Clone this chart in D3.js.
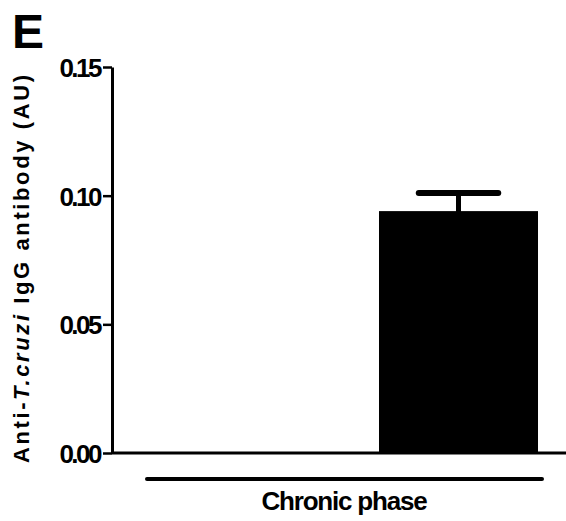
<!DOCTYPE html>
<html>
<head>
<meta charset="utf-8">
<script src="https://cdn.jsdelivr.net/npm/d3@7/dist/d3.min.js"></script>
<style>
  body { margin: 0; background: #fff; }
  text { font-family: "Liberation Sans", Arial, sans-serif; font-weight: bold; }
</style>
</head>
<body>
<svg id="mainsvg" width="566" height="521"></svg>
<script>
// data
const categories = ['ctrl', 'infected'];
const means = [0, 0.094];
const errors = [0, 0.007];
const yTicks = [0, 0.05, 0.10, 0.15];
const groupLabel = 'Chronic phase';

const svg = d3.select('#mainsvg');
const axisX = 112;

const yScale = d3.scaleLinear().domain([0, 0.15]).range([453, 67]);
const xScale = d3.scaleBand().domain(categories).range([112, 592]).padding(0.2535);

// panel letter
svg.append('text')
  .attr('x', 12).attr('y', 48)
  .style('font-size', '48px')
  .text('E');

// bars
svg.selectAll('.bar').data(categories).enter().append('rect')
  .attr('class', 'bar')
  .attr('x', d => xScale(d))
  .attr('width', xScale.bandwidth())
  .attr('y', (d, i) => yScale(means[i]))
  .attr('height', (d, i) => yScale(0) - yScale(means[i]))
  .attr('fill', '#000');

// error bars (upper only)
const eb = svg.append('g').attr('stroke', '#000').attr('stroke-linecap', 'round');
categories.forEach((c, i) => {
  if (means[i] <= 0) return;
  const cx = xScale(c) + xScale.bandwidth() / 2;
  const top = yScale(means[i] + errors[i]);
  eb.append('line').attr('x1', cx).attr('x2', cx)
    .attr('y1', yScale(means[i])).attr('y2', top).attr('stroke-width', 5);
  eb.append('line').attr('x1', cx - xScale.bandwidth() / 4).attr('x2', cx + xScale.bandwidth() / 4)
    .attr('y1', top).attr('y2', top).attr('stroke-width', 6);
});

// x axis line
svg.append('line')
  .attr('x1', axisX).attr('x2', 566)
  .attr('y1', yScale(0)).attr('y2', yScale(0))
  .attr('stroke', '#000').attr('stroke-width', 3);

// y axis
const yAxis = svg.append('g')
  .attr('transform', `translate(${axisX},0)`)
  .call(d3.axisLeft(yScale).tickValues(yTicks).tickFormat(d3.format('.2f')).tickSize(9).tickPadding(3).tickSizeOuter(0));
yAxis.select('.domain').attr('stroke-width', 3);
yAxis.selectAll('.tick line').attr('stroke-width', 2.5);
yAxis.selectAll('.tick text')
  .style('font-family', '"Liberation Sans", Arial, sans-serif')
  .style('font-weight', 'bold')
  .style('font-size', '26px')
  .style('letter-spacing', '-2.5px')
  .attr('fill', '#000')
  .attr('dy', '0.36em');

// y label
const ylab = svg.append('text')
  .attr('transform', 'rotate(-90)')
  .attr('x', -269).attr('y', 29)
  .attr('text-anchor', 'middle')
  .style('font-size', '22px')
  .attr('textLength', 388)
  .attr('lengthAdjust', 'spacing');
ylab.append('tspan').text('Anti-');
ylab.append('tspan').style('font-style', 'italic').text('T.cruzi');
ylab.append('tspan').text(' IgG antibody (AU)');

// group line and label
svg.append('line')
  .attr('x1', 147).attr('x2', 542)
  .attr('y1', 479).attr('y2', 479)
  .attr('stroke', '#000').attr('stroke-width', 4).attr('stroke-linecap', 'round');

svg.append('text')
  .attr('x', 344).attr('y', 510)
  .attr('text-anchor', 'middle')
  .style('font-size', '26px')
  .style('letter-spacing', '-1.2px')
  .text(groupLabel);
</script>
</body>
</html>
